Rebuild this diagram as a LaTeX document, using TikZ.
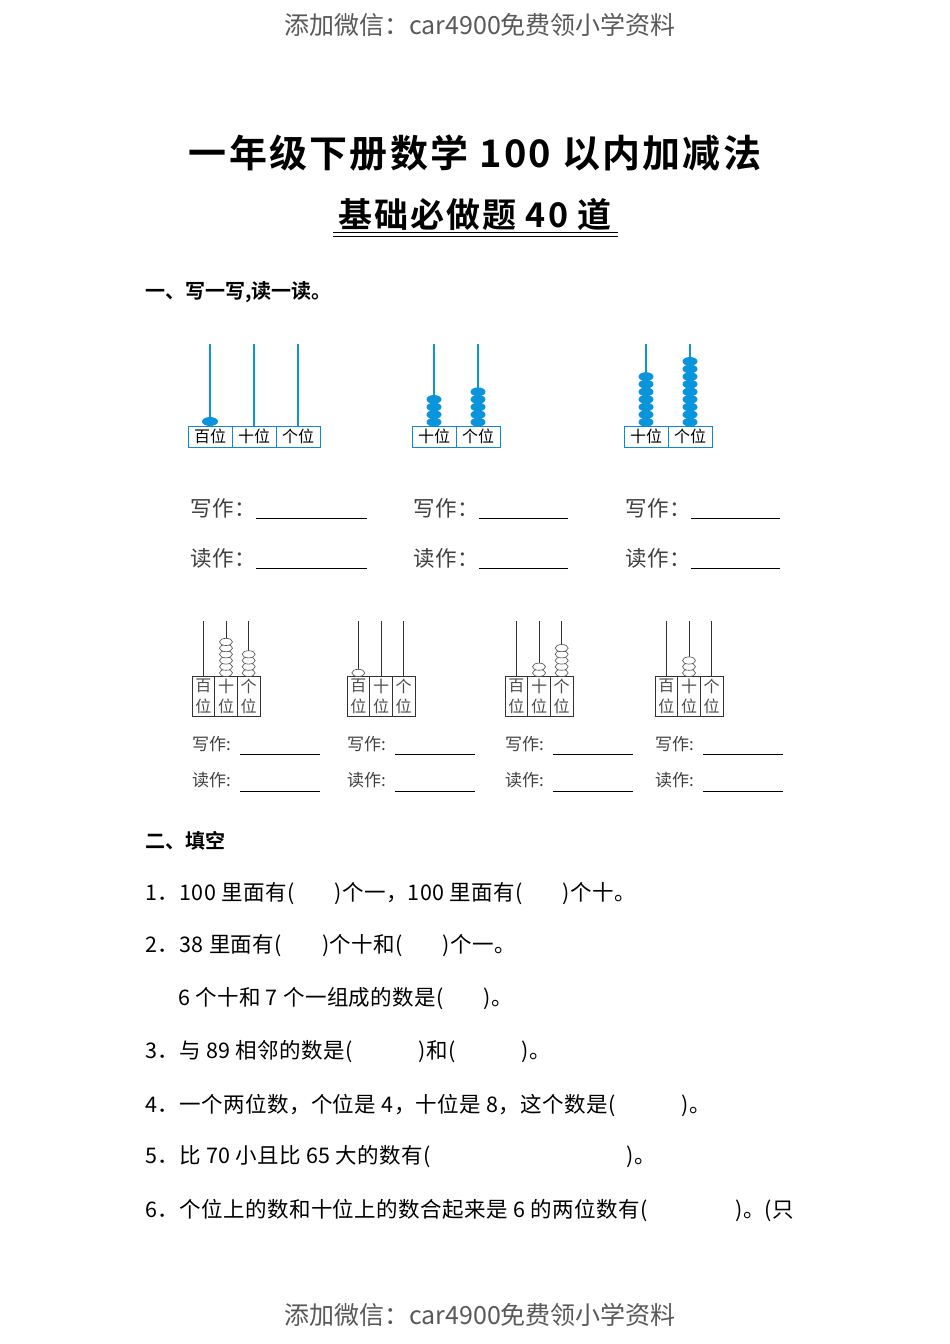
\documentclass[tikz,border=0pt]{standalone}
\usepackage{fontspec}
\setmainfont{Noto Sans CJK SC}
\newfontfamily\cjkb{Noto Sans CJK SC Bold}
\newfontfamily\cjkt[LetterSpace=6]{Noto Sans CJK SC Bold}
\newfontfamily\cjkr[LetterSpace=2]{Noto Sans CJK SC}
\begin{document}
\begin{tikzpicture}[x=1pt,y=-1pt,
  wm/.style={anchor=center,text=black!65,font=\fontsize{25}{28}\selectfont},
  body/.style={anchor=west,font=\cjkr\fontsize{21.5}{24}\selectfont,inner sep=0},
  small/.style={anchor=west,font=\fontsize{17}{20}\selectfont,text=black!75,inner sep=0},
  head/.style={anchor=west,font=\cjkb\fontsize{20}{23}\selectfont,inner sep=0},
  rodA/.style={draw=cyan!80!blue,line width=1.2pt},
  cellA/.style={draw=cyan!70!blue,line width=0.8pt},
  beadA/.style={fill=cyan!80!blue},
  rodB/.style={draw=black!80,line width=0.8pt},
  beadB/.style={draw=black!70,fill=white,line width=0.6pt},
  uline/.style={draw=black,line width=0.8pt}]
\useasboundingbox (0,0) rectangle (950,1344);
\fill[white] (0,0) rectangle (950,1344);
\node[wm] (wmt) at (480,25) {添加微信：car4900免费领小学资料};
\node[wm] (wmb) at (480,1315) {添加微信：car4900免费领小学资料};
\node[font=\cjkt\fontsize{38}{42}\selectfont] (t1) at (475,153) {一年级下册数学 100 以内加减法};
\node[font=\cjkt\fontsize{34}{38}\selectfont] (t2) at (475,214) {基础必做题 40 道};
\draw[line width=1pt] (333,232) -- (618,232) (333,236) -- (618,236);
\node[head] (s1) at (145,292) {一、写一写,读一读。};
% abacus 1
\foreach \i/\t in {0/百位,1/十位,2/个位}{
  \draw[cellA] (188+44*\i,426) rectangle (232+44*\i,447);
  \node[font=\fontsize{16}{18}\selectfont,inner sep=0] (a1l\i) at (210+44*\i,436.5) {\t};
  \draw[rodA] (210+44*\i,344) -- (210+44*\i,426);
}
\fill[beadA] (210,421.5) ellipse (8 and 4.5);
% abacus 2 and 3
\foreach \bx/\nt/\no in {412/4/5,624/7/9}{
  \foreach \i/\t in {0/十位,1/个位}{
    \draw[cellA] (\bx+44*\i,426) rectangle (\bx+44+44*\i,447);
    \node[font=\fontsize{16}{18}\selectfont,inner sep=0] at (\bx+22+44*\i,436.5) {\t};
    \draw[rodA] (\bx+22+44*\i,344) -- (\bx+22+44*\i,426);
  }
  \foreach \k in {1,...,\nt}{\fill[beadA] (\bx+22,426-7.6*\k+3.8) ellipse (7.5 and 4.4);}
  \foreach \k in {1,...,\no}{\fill[beadA] (\bx+66,426-7.6*\k+3.8) ellipse (7.5 and 4.4);}
}
% write/read top
\foreach \x/\la/\lb in {190/256/367,413/479/568,625/691/780}{
  \node[body,text=black!75] at (\x,508) {写作：};
  \draw[uline] (\la,518) -- (\lb,518);
  \node[body,text=black!75] at (\x,558) {读作：};
  \draw[uline] (\la,568) -- (\lb,568);
}
% bottom abaci
\foreach \bx/\h/\t/\o in {192/0/6/4,347/1/0/0,505/0/2/5,655/0/3/0}{
  \draw[rodB] (\bx,676) rectangle (\bx+68,716);
  \foreach \i/\ta in {0/百,1/十,2/个}{
    \pgfmathsetmacro\cx{\bx+11.33+22.67*\i}
    \draw[rodB] (\bx+22.67*\i,676) -- (\bx+22.67*\i,716);
    \node[font=\fontsize{16}{18}\selectfont,text=black!70,inner sep=0] at (\cx,686) {\ta};
    \node[font=\fontsize{16}{18}\selectfont,text=black!70,inner sep=0] at (\cx,706) {位};
    \draw[rodB] (\cx,621) -- (\cx,676);
  }
  \ifnum\h>0 \foreach \k in {1,...,\h}{\draw[beadB] (\bx+11.33,676-6.2*\k+3.1) ellipse (6.5 and 3.6);}\fi
  \ifnum\t>0 \foreach \k in {1,...,\t}{\draw[beadB] (\bx+34,676-6.2*\k+3.1) ellipse (6.5 and 3.6);}\fi
  \ifnum\o>0 \foreach \k in {1,...,\o}{\draw[beadB] (\bx+56.67,676-6.2*\k+3.1) ellipse (6.5 and 3.6);}\fi
  \node[small] at (\bx,744) {写作:};
  \draw[uline] (\bx+48,754) -- (\bx+128,754);
  \node[small] at (\bx,780) {读作:};
  \draw[uline] (\bx+48,791) -- (\bx+128,791);
}
\node[head] (s2) at (145,841) {二、填空};
\node[body] (q1) at (145,894) {1．100 里面有(\hspace{40pt})个一，100 里面有(\hspace{40pt})个十。};
\node[body] (q2) at (145,946) {2．38 里面有(\hspace{40pt})个十和(\hspace{40pt})个一。};
\node[body] (q2b) at (178,999) {6 个十和 7 个一组成的数是(\hspace{40pt})。};
\node[body] (q3) at (145,1052) {3．与 89 相邻的数是(\hspace{66pt})和(\hspace{66pt})。};
\node[body] (q4) at (145,1105) {4．一个两位数，个位是 4，十位是 8，这个数是(\hspace{66pt})。};
\node[body] (q5) at (145,1157) {5．比 70 小且比 65 大的数有(\hspace{196pt})。};
\node[body] (q6) at (145,1210) {6．个位上的数和十位上的数合起来是 6 的两位数有(\hspace{88pt})。(只};
\end{tikzpicture}
\end{document}
